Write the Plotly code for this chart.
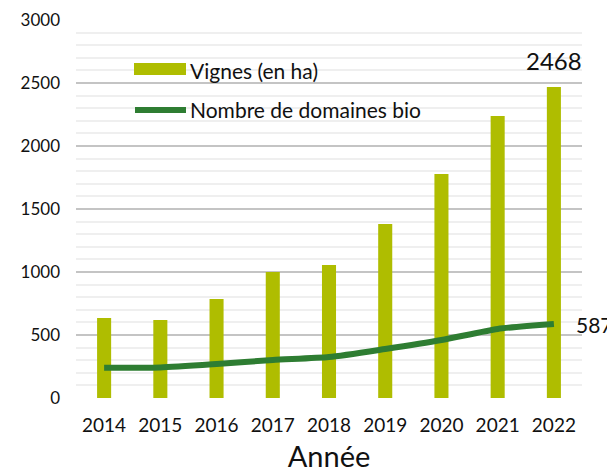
import plotly.graph_objects as go

years = ["2014", "2015", "2016", "2017", "2018", "2019", "2020", "2021", "2022"]
vignes_ha = [635, 620, 786, 1000, 1056, 1381, 1778, 2238, 2468]
domaines_bio = [240, 243, 270, 302, 325, 389, 460, 548, 587]
yticks = [0, 500, 1000, 1500, 2000, 2500, 3000]

BAR = "#afbd00"
LINE = "#2e7d32"
FONT = "Lato"

# page offset of 8px (body margin) compensated in margins
W, H = 607, 465
L, R, T, B = 68, 33, 12, 75
PW = W - L - R
PH = H - T - B


def px_x(x):  # window px -> paper
    return (x - 8 - L) / PW


def px_y(y):
    return (H - B - (y - 8)) / PH


fig = go.Figure()
fig.add_trace(go.Bar(x=years, y=vignes_ha, name="Vignes (en ha)",
                     marker=dict(color=BAR, line=dict(width=0)), width=0.25,
                     showlegend=False))
fig.add_trace(go.Scatter(x=years, y=domaines_bio, name="Nombre de domaines bio",
                         mode="lines", line=dict(color=LINE, width=6, shape="spline", smoothing=0.6),
                         showlegend=False))

last = len(years) - 1
fig.add_annotation(x=last, y=vignes_ha[-1], text=str(vignes_ha[-1]), showarrow=False,
                   yanchor="middle", yshift=27, font=dict(size=24, color="#111", family=FONT))
fig.add_annotation(x=last, y=domaines_bio[-1], text=str(domaines_bio[-1]), showarrow=False,
                   xanchor="left", xshift=20, yshift=0, font=dict(size=21, color="#111", family=FONT))

# custom legend
fig.add_shape(type="rect", xref="paper", yref="paper", x0=px_x(134), x1=px_x(186),
              y0=px_y(75), y1=px_y(63), fillcolor=BAR, line=dict(width=0))
fig.add_shape(type="line", xref="paper", yref="paper", x0=px_x(135), x1=px_x(186),
              y0=px_y(110), y1=px_y(110), line=dict(color=LINE, width=6))
fig.add_annotation(xref="paper", yref="paper", x=px_x(188), y=px_y(70), text="Vignes (en ha)",
                   showarrow=False, xanchor="left", yanchor="middle",
                   font=dict(size=21, color="#111", family=FONT))
fig.add_annotation(xref="paper", yref="paper", x=px_x(188), y=px_y(109), text="Nombre de domaines bio",
                   showarrow=False, xanchor="left", yanchor="middle",
                   font=dict(size=21, color="#111", family=FONT))

fig.update_layout(
    width=W, height=H,
    margin=dict(l=L, r=R, t=T, b=B, autoexpand=False),
    paper_bgcolor="white", plot_bgcolor="white",
    font=dict(family=FONT, color="#111"),
    xaxis=dict(type="category", range=[-0.5, 8.5], showgrid=False, showline=False, automargin=False,
               ticks="", tickfont=dict(size=19), ticklabelstandoff=14,
               title=dict(text="Année", font=dict(size=29), standoff=12)),
    yaxis=dict(range=[0, 3000], tickvals=yticks, showgrid=True, gridcolor="#c4c4c4", gridwidth=2,
               zeroline=False, showline=False, automargin=False,
               tickfont=dict(size=17), ticklabelstandoff=15,
               minor=dict(dtick=100, showgrid=True, gridcolor="#efefef", gridwidth=2)),
)

fig.write_html("out.html")
